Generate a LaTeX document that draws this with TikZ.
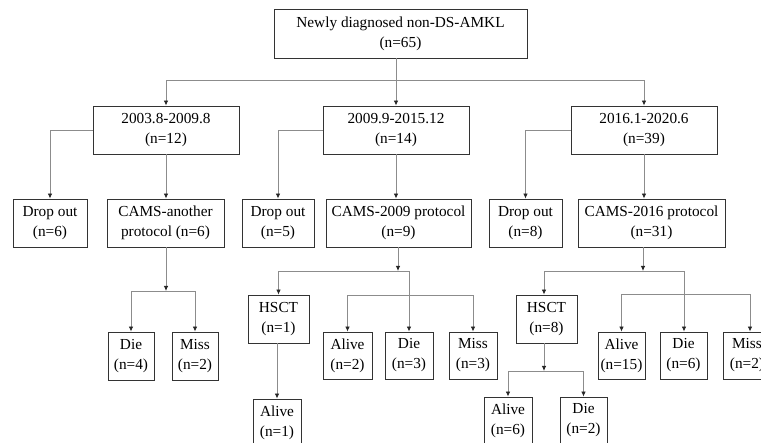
\documentclass[tikz,border=0pt]{standalone}
\usepackage{fontspec}
\setmainfont{Liberation Serif}
\usetikzlibrary{arrows.meta}
\tikzset{
  box/.style={draw=black!80, line width=0.9pt, inner sep=0pt, align=center,
    font=\fontsize{15.3}{20}\selectfont, minimum height=48pt},
  conn/.style={draw=black!45, line width=0.8pt},
  arr/.style={conn, -{Latex[length=5pt,width=4.5pt,black!85]}}
}
\begin{document}
\begin{tikzpicture}[x=1pt,y=-1pt]
\useasboundingbox (0,0) rectangle (761,443);
\clip (0,0) rectangle (761,443);
% level 0
\node[box, minimum width=253pt, minimum height=49pt] (top) at (400.5,33.5) {Newly diagnosed non-DS-AMKL\\(n=65)};
% level 1
\node[box, minimum width=146pt] (b1) at (166,130) {2003.8-2009.8\\(n=12)};
\node[box, minimum width=146pt] (b2) at (396,130) {2009.9-2015.12\\(n=14)};
\node[box, minimum width=146pt] (b3) at (644,130) {2016.1-2020.6\\(n=39)};
% level 2
\node[box, minimum width=74pt] (d1) at (50,223) {Drop out\\(n=6)};
\node[box, minimum width=117pt] (c1) at (165.5,223) {CAMS-another\\protocol (n=6)};
\node[box, minimum width=72pt] (d2) at (278,223) {Drop out\\(n=5)};
\node[box, minimum width=145pt] (c2) at (398.5,223) {CAMS-2009 protocol\\(n=9)};
\node[box, minimum width=73pt] (d3) at (525.5,223) {Drop out\\(n=8)};
\node[box, minimum width=147pt] (c3) at (651.5,223) {CAMS-2016 protocol\\(n=31)};
% level 3 left
\node[box, minimum width=46pt] (die1) at (131,356) {Die\\(n=4)};
\node[box, minimum width=46pt] (miss1) at (195,356) {Miss\\(n=2)};
% level 3 middle
\node[box, minimum width=61pt] (h2) at (278.5,319) {HSCT\\(n=1)};
\node[box, minimum width=49pt, minimum height=47pt] (alive2) at (347.5,355.5) {Alive\\(n=2)};
\node[box, minimum width=48pt, minimum height=47pt] (die2) at (409,355.5) {Die\\(n=3)};
\node[box, minimum width=48pt, minimum height=47pt] (miss2) at (473,355.5) {Miss\\(n=3)};
\node[box, minimum width=48pt, minimum height=47pt] (alive2b) at (277,422.5) {Alive\\(n=1)};
% level 3 right
\node[box, minimum width=61pt] (h3) at (546.5,319) {HSCT\\(n=8)};
\node[box, minimum width=47pt, minimum height=47pt] (alive3) at (621.5,355.5) {Alive\\(n=15)};
\node[box, minimum width=47pt, minimum height=47pt] (die3) at (683.5,355.5) {Die\\(n=6)};
\node[box, minimum width=48pt, minimum height=47pt] (miss3) at (747,355.5) {Miss\\(n=2)};
\node[box, minimum width=48pt, minimum height=47pt] (alive4) at (508,420.5) {Alive\\(n=6)};
\node[box, minimum width=47pt, minimum height=47pt] (die4) at (583.5,420.5) {Die\\(n=2)};
% junctions
\coordinate (jt) at (396,80);
\coordinate (j1) at (166,291);
\coordinate (j2) at (398,271);
\coordinate (j2b) at (409,295);
\coordinate (j3) at (643,271);
\coordinate (j3b) at (684,294);
\coordinate (j4) at (544,371);
% level 0 -> 1
\draw[arr] (top.south -| b2.north) -- (b2.north);
\draw[arr] (jt) -| (b1.north);
\draw[arr] (jt) -| (b3.north);
% level 1 -> 2
\draw[arr] (b1.west) -| (d1.north);
\draw[arr] (b1.south) -- (b1.south |- c1.north);
\draw[arr] (b2.west) -| (d2.north);
\draw[arr] (b2.south) -- (b2.south |- c2.north);
\draw[arr] (b3.west) -| (d3.north);
\draw[arr] (b3.south) -- (b3.south |- c3.north);
% left subtree
\draw[arr] (c1.south -| j1) -- (j1);
\draw[arr] (j1) -| (die1.north);
\draw[arr] (j1) -| (miss1.north);
% middle subtree
\draw[arr] (c2.south -| j2) -- (j2);
\draw[arr] (j2) -| (h2.north);
\draw[arr] (j2) -| (die2.north);
\draw[arr] (j2b) -| (alive2.north);
\draw[arr] (j2b) -| (miss2.north);
\draw[arr] (h2.south -| alive2b.north) -- (alive2b.north);
% right subtree
\draw[arr] (c3.south -| j3) -- (j3);
\draw[arr] (j3) -| (h3.north -| j4);
\draw[arr] (j3) -| (die3.north -| j3b);
\draw[arr] (j3b) -| (alive3.north);
\draw[arr] (j3b) -| ([xshift=3pt]miss3.north);
\draw[arr] (h3.south -| j4) -- (j4);
\draw[arr] (j4) -| (alive4.north);
\draw[arr] (j4) -| (die4.north);
\end{tikzpicture}
\end{document}
